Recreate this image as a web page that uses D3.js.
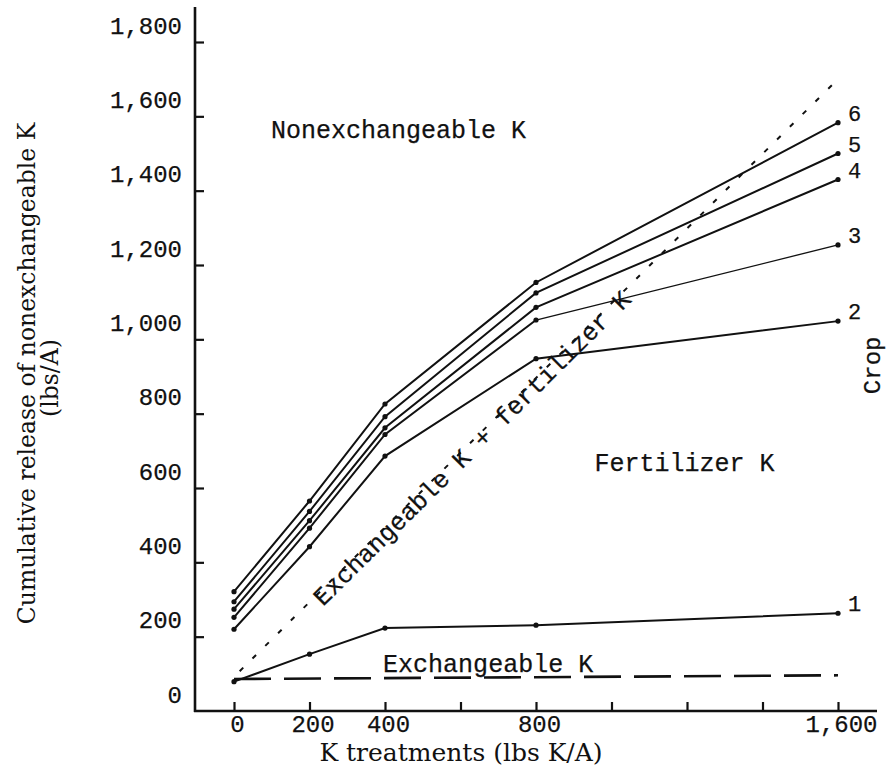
<!DOCTYPE html>
<html>
<head>
<meta charset="utf-8">
<script src="https://cdn.jsdelivr.net/npm/d3@7"></script>
<style>
  html, body { margin: 0; padding: 0; background: #fff; }
  svg { display: block; }
  .mono { font-family: "Liberation Mono", "DejaVu Sans Mono", monospace; fill: #111; stroke: #111; stroke-width: 0.25px; }
  .serif { font-family: "DejaVu Serif", "Liberation Serif", serif; fill: #111; }
</style>
</head>
<body>
<script>
// ---- data ----
const treatments = [0, 200, 400, 800, 1600];
const crop1 = [79, 153, 223, 231, 263];
const crop2 = [220, 442, 686, 948, 1049];
const crop3 = [252, 492, 744, 1052, 1254];
const crop4 = [274, 512, 762, 1086, 1430];
const crop5 = [294, 537, 792, 1125, 1500];
const crop6 = [321, 565, 826, 1153, 1583];
const cropNames = ["1", "2", "3", "4", "5", "6"];
const exchangeableX = [0, 1600];
const exchangeableK = [86, 96];
const exchPlusFertX = [0, 1600];
const exchPlusFert = [92, 1700];
const yTicks = [0, 200, 400, 600, 800, 1000, 1200, 1400, 1600, 1800];
const xTicks = [0, 200, 400, 600, 800, 1000, 1200, 1400, 1600];
const xTickLabels = [0, 200, 400, 800, 1600];

const W = 887, H = 767;
const svg = d3.select("body").append("svg").attr("width", W).attr("height", H);

const x = d3.scaleLinear().domain([0, 1600]).range([234, 838]);
const y = d3.scaleLinear().domain([0, 1800]).range([711, 42]);

const ink = "#111";
const axisX0 = 195, axisTop = 7, axisRight = 877;

// ---- axes ----
svg.append("line").attr("x1", axisX0).attr("x2", axisX0)
  .attr("y1", axisTop).attr("y2", y(0) + 1)
  .attr("stroke", ink).attr("stroke-width", 2.6);
svg.append("line").attr("x1", axisX0 - 1).attr("x2", axisRight)
  .attr("y1", y(0)).attr("y2", y(0))
  .attr("stroke", ink).attr("stroke-width", 2.6);

const yAxis = d3.axisRight(y).tickValues(yTicks).tickSize(9).tickFormat(d3.format(","));
const gy = svg.append("g").attr("transform", `translate(${axisX0},0)`).call(yAxis);
gy.select(".domain").remove();
gy.selectAll(".tick line").attr("stroke", ink).attr("stroke-width", 2.2);
gy.selectAll(".tick").filter(d => d === 0).select("line").remove();
gy.selectAll(".tick text")
  .attr("class", "mono")
  .attr("x", -13).attr("dy", null).attr("y", -9)
  .attr("text-anchor", "end")
  .style("font-size", "24px");

const xAxis = d3.axisTop(x).tickValues(xTicks).tickSize(9)
  .tickFormat(d => xTickLabels.includes(d) ? d3.format(",")(d) : "");
const gx = svg.append("g").attr("transform", `translate(0,${y(0)})`).call(xAxis);
gx.select(".domain").remove();
gx.selectAll(".tick line").attr("stroke", ink).attr("stroke-width", 2.2);
gx.selectAll(".tick text")
  .attr("class", "mono")
  .attr("y", 21).attr("dy", null).attr("dx", 3)
  .attr("text-anchor", "middle")
  .style("font-size", "24px");

// axis titles
svg.append("text").attr("class", "serif")
  .attr("x", 461).attr("y", 761).attr("text-anchor", "middle")
  .style("font-size", "25px")
  .text("K treatments (lbs K/A)");

svg.append("text").attr("class", "serif")
  .attr("transform", "translate(35,373.5) rotate(-90)")
  .attr("text-anchor", "middle").style("font-size", "23.5px")
  .text("Cumulative release of nonexchangeable K");
svg.append("text").attr("class", "serif")
  .attr("transform", "translate(58,378) rotate(-90)")
  .attr("text-anchor", "middle").style("font-size", "23.5px")
  .text("(lbs/A)");

// ---- reference lines ----
svg.append("path")
  .datum(exchangeableX.map((v, i) => [v, exchangeableK[i]]))
  .attr("d", d3.line().x(d => x(d[0])).y(d => y(d[1])))
  .attr("fill", "none").attr("stroke", ink).attr("stroke-width", 2.6)
  .attr("stroke-dasharray", "37,13");

svg.append("path")
  .datum(exchPlusFertX.map((v, i) => [v, exchPlusFert[i]]))
  .attr("d", d3.line().x(d => x(d[0])).y(d => y(d[1])))
  .attr("fill", "none").attr("stroke", ink).attr("stroke-width", 2)
  .attr("stroke-dasharray", "5,13").attr("stroke-dashoffset", -8);

// ---- crop lines ----
const crops = [crop1, crop2, crop3, crop4, crop5, crop6];
const lineGen = d3.line().x(d => x(d[0])).y(d => y(d[1]));
crops.forEach((vals, ci) => {
  const pts = treatments.map((t, i) => [t, vals[i]]);
  if (ci === 2) {
    svg.append("path").datum(pts.slice(0, 4)).attr("d", lineGen)
      .attr("fill", "none").attr("stroke", ink).attr("stroke-width", 2);
    svg.append("path").datum(pts.slice(3)).attr("d", lineGen)
      .attr("fill", "none").attr("stroke", ink).attr("stroke-width", 1.3);
  } else {
    svg.append("path").datum(pts).attr("d", lineGen)
      .attr("fill", "none").attr("stroke", ink).attr("stroke-width", 2);
  }
  svg.selectAll(null).data(pts).enter().append("circle")
    .attr("cx", d => x(d[0])).attr("cy", d => y(d[1])).attr("r", 2.6)
    .attr("fill", ink);
  svg.append("text").attr("class", "mono")
    .attr("x", x(1600) + 10).attr("y", y(vals[vals.length - 1]) - 2)
    .style("font-size", "22px")
    .text(cropNames[ci]);
});

// ---- annotations ----
svg.append("text").attr("class", "mono")
  .attr("x", x(98)).attr("y", y(1541)).style("font-size", "25px")
  .text("Nonexchangeable K");
svg.append("text").attr("class", "mono")
  .attr("x", x(955)).attr("y", y(645)).style("font-size", "25px")
  .text("Fertilizer K");
svg.append("text").attr("class", "mono")
  .attr("x", x(395)).attr("y", y(105)).style("font-size", "25px")
  .text("Exchangeable K");

const ang = Math.atan2(y(exchPlusFert[1]) - y(exchPlusFert[0]), x(exchPlusFertX[1]) - x(exchPlusFertX[0])) * 180 / Math.PI;
svg.append("text").attr("class", "mono")
  .attr("transform", `translate(${x(236)},${y(280)}) rotate(${ang})`)
  .style("font-size", "25px")
  .text("Exchangeable K + fertilizer K");

svg.append("text").attr("class", "mono")
  .attr("transform", `translate(873,${y(930)}) rotate(-90)`)
  .attr("text-anchor", "middle").attr("dominant-baseline", "central")
  .style("font-size", "24px")
  .text("Crop");
</script>
</body>
</html>
